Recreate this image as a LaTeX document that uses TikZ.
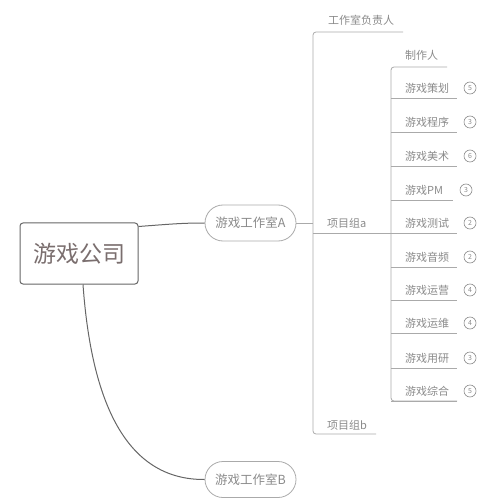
\documentclass[tikz,border=0pt]{standalone}
\usepackage{fontspec}
\newfontfamily\cjk{Noto Sans CJK SC}
\definecolor{rootline}{HTML}{666666}
\definecolor{roottext}{HTML}{7A6E6E}
\definecolor{treeline}{HTML}{AAAAAA}
\definecolor{txt}{HTML}{8A8A8A}
\begin{document}
\begin{tikzpicture}[x=1pt,y=-1pt,
  rootbox/.style={draw=rootline, line width=1pt, rounded corners=3pt, minimum width=118pt, minimum height=61pt, inner sep=0pt, text=roottext, font=\cjk\fontsize{23}{26}\selectfont},
  pill/.style={draw=treeline, line width=0.8pt, rounded corners=18pt, minimum width=91pt, minimum height=36pt, inner sep=0pt, text=txt, font=\cjk\fontsize{12.5}{14}\selectfont},
  conn/.style={draw=rootline, line width=1pt},
  tree/.style={draw=treeline, line width=0.8pt},
  lbl/.style={anchor=west, inner sep=0pt, text=txt, font=\cjk\fontsize{11}{13}\selectfont},
  num/.style={circle, draw=txt, line width=0.6pt, minimum size=12pt, inner sep=0pt, text=txt, font=\cjk\fontsize{7}{8}\selectfont}]
\useasboundingbox (0,0) rectangle (500,502);

\node[rootbox] (root) at (79,253.5) {游戏公司};
\node[pill] (A) at (250.5,223) {游戏工作室A};
\node[pill] (B) at (250.5,479.5) {游戏工作室B};

\draw[conn] ([yshift=-4pt]root.north east) .. controls (172,224) and (182,223) .. (A.west);
\draw[conn] ([xshift=4pt]root.south) .. controls (92,410) and (130,480) .. (B.west);

% first level
\coordinate (v1) at (313,223);
\coordinate (ptop) at (403,32);
\coordinate (pbot) at (376,434);
\coordinate (pa) at (391,233);
\draw[tree] (A.east) -- (v1);
\draw[tree, rounded corners=3pt] (ptop) -| (pbot -| v1) -- (pbot);
\draw[tree] (v1 |- pa) -- (pa);
\node[lbl] (fz) at (328,20) {工作室负责人};
\node[lbl] (xa) at (327,223) {项目组a};
\node[lbl] (xb) at (327,425) {项目组b};

% second level
\coordinate (stop) at (447,67);
\coordinate (sbot) at (457,401);
\draw[tree, rounded corners=3pt] (stop) -| (sbot -| pa) -- (sbot);
\node[lbl] (zz) at (405,55) {制作人};

\foreach \t/\n/\y/\e [count=\i] in {游戏策划/5/88/457, 游戏程序/3/122/457, 游戏美术/6/156/457, 游戏PM/3/190/453, 游戏测试/2/223/457, 游戏音频/2/257/457, 游戏运营/4/290/457, 游戏运维/4/323/457, 游戏用研/3/358/457, 游戏综合/5/391/457}{
  \node[lbl] (it\i) at (405,\y) {\t};
  \node[num] (n\i) at (\e+13,\y) {\n};
  \draw[tree] (391,\y+10) -- (\e,\y+10);
}
\end{tikzpicture}
\end{document}
